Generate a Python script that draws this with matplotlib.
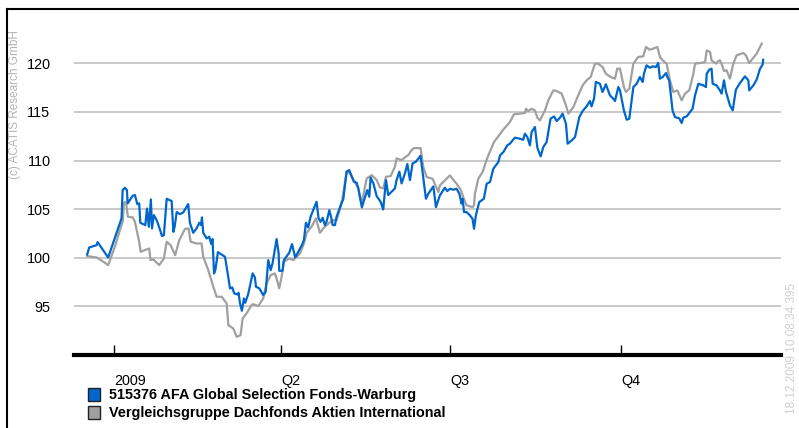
"""Fondsvergleich 2009 als Linienchart."""

import matplotlib

matplotlib.use("Agg")
import matplotlib.pyplot as plt
from matplotlib.patches import Rectangle
from matplotlib.lines import Line2D
import numpy as np

plt.rcParams["font.family"] = ["Liberation Sans", "DejaVu Sans"]

# Tage ab 01.01.2009 und Indexwerte (Start = 100)
fund_days = [-14.4, -13.3, -9.3, -8.8, -3.1, 4.1, 4.7, 5.9, 7.0, 7.4, 10.1, 11.3, 12.6, 13.6, 14.2,
             16.9, 17.8, 18.8, 19.9, 20.5, 21.5, 23.0, 24.4, 25.9, 26.9, 28.4, 31.1, 32.0, 32.7,
             33.8, 35.5, 37.3, 40.0, 40.9, 42.7, 44.5, 46.0, 46.9, 47.4, 48.1, 49.9, 51.3, 52.4,
             53.1, 53.9, 54.6, 56.0, 59.8, 60.7, 62.5, 63.7, 64.8, 66.6, 67.1, 67.9, 68.9, 70.0,
             70.7, 72.3, 74.7, 75.9, 76.5, 78.3, 80.4, 81.7, 83.1, 84.4, 85.4, 87.6, 88.7, 89.0,
             90.8, 91.5, 94.4, 95.9, 97.6, 101.2, 102.3, 103.4, 104.6, 105.9, 109.1, 110.2, 111.3,
             112.4, 113.6, 114.5, 116.0, 116.9, 117.8, 119.0, 119.9, 122.6, 123.5, 125.3, 126.7,
             129.2, 130.7, 131.6, 133.5, 135.7, 136.4, 137.5, 138.2, 139.7, 141.5, 143.6, 145.0,
             146.5, 147.7, 151.3, 152.2, 153.7, 154.9, 156.7, 158.0, 159.4, 160.8, 162.6, 165.1,
             168.0, 169.3, 172.0, 173.4, 175.5, 178.2, 179.5, 181.0, 182.7, 184.5, 186.0, 187.2,
             187.8, 188.5, 189.9, 191.7, 193.1, 193.9, 194.9, 196.7, 199.2, 200.7, 202.5, 204.3,
             207.0, 207.9, 209.7, 211.8, 213.2, 215.9, 218.6, 220.4, 221.3, 222.6, 224.0, 224.9,
             226.7, 228.0, 229.8, 231.2, 233.0, 235.1, 237.0, 238.4, 240.2, 241.6, 243.4, 244.3,
             246.5, 248.3, 250.6, 252.4, 254.5, 256.3, 257.2, 258.5, 259.5, 261.7, 263.1, 264.9,
             267.1, 268.9, 269.8, 271.6, 272.5, 274.6, 276.1, 277.5, 279.7, 281.5, 283.2, 284.7,
             285.4, 286.8, 288.6, 290.4, 291.9, 293.1, 294.0, 295.5, 297.3, 298.0, 299.0, 300.8,
             302.1, 304.4, 305.7, 306.6, 308.4, 311.6, 312.9, 314.7, 317.4, 318.8, 319.2, 320.6,
             321.8, 322.4, 324.5, 326.3, 327.2, 328.5, 329.6, 331.7, 333.2, 334.9, 337.1, 339.8,
             341.6, 342.1, 344.3, 346.1, 347.9, 349.3, 349.6]
fund_values = [100.34, 101.06, 101.30, 101.61, 100.03, 104.05, 106.96, 107.20, 106.96, 105.59,
               106.38, 106.45, 105.52, 105.59, 103.60, 103.36, 105.07, 103.19, 106.00, 103.02,
               104.39, 103.87, 103.12, 102.23, 102.33, 106.07, 105.83, 102.67, 103.19, 104.70,
               104.49, 104.66, 105.52, 103.60, 102.57, 103.02, 103.60, 103.36, 104.15, 102.57,
               101.99, 102.16, 101.41, 101.92, 98.39, 98.73, 100.58, 100.10, 99.07, 96.85, 96.95,
               96.33, 96.23, 96.40, 95.30, 94.55, 95.82, 95.37, 96.26, 98.39, 97.98, 97.02, 96.85,
               96.16, 96.50, 99.76, 98.73, 99.42, 101.92, 100.45, 98.66, 98.66, 99.76, 100.51,
               101.41, 100.03, 101.30, 101.82, 103.60, 103.12, 104.22, 105.76, 104.05, 103.70,
               104.11, 103.36, 103.70, 104.90, 104.22, 103.36, 103.36, 104.22, 105.66, 106.00,
               108.85, 109.02, 107.82, 107.72, 107.13, 105.18, 106.55, 106.96, 106.28, 108.26,
               107.65, 106.34, 105.76, 104.97, 107.99, 106.45, 107.13, 107.99, 108.85, 107.65,
               108.68, 109.64, 107.99, 109.70, 109.88, 110.49, 106.07, 106.59, 107.34, 105.21,
               106.41, 107.20, 106.86, 107.10, 107.00, 107.10, 106.59, 105.56, 106.07, 104.70,
               104.70, 104.36, 104.01, 102.98, 104.36, 105.73, 106.07, 107.61, 107.79, 109.16,
               109.84, 110.53, 110.87, 111.56, 111.73, 112.35, 112.25, 112.14, 112.76, 112.42,
               111.56, 112.93, 113.45, 111.32, 110.43, 111.39, 111.90, 114.30, 114.54, 114.06,
               114.41, 114.82, 113.79, 111.73, 112.07, 112.42, 114.47, 115.09, 115.57, 116.12,
               115.57, 116.36, 118.08, 117.90, 117.05, 117.84, 116.70, 116.36, 116.12, 117.56,
               117.22, 115.16, 114.20, 114.30, 117.56, 117.90, 118.59, 118.08, 118.93, 119.79,
               119.55, 119.69, 119.62, 120.03, 118.42, 118.59, 119.00, 118.59, 118.25, 115.16,
               114.47, 114.34, 113.86, 114.41, 114.54, 115.33, 116.70, 117.90, 117.73, 117.56,
               118.93, 119.35, 119.45, 117.90, 117.73, 117.22, 116.88, 118.25, 117.05, 115.68,
               115.16, 117.29, 117.97, 118.66, 118.25, 117.22, 117.73, 118.32, 119.45, 119.86,
               120.37]

peer_days = [-14.4, -9.3, -5.7, -3.1, 0.5, 3.2, 4.7, 5.4, 6.5, 7.5, 10.1, 11.3, 13.6, 14.4, 16.7,
             19.0, 19.7, 21.2, 24.4, 26.9, 28.4, 30.5, 33.0, 35.2, 38.2, 40.2, 41.3, 44.5, 47.2,
             48.1, 50.8, 53.5, 55.3, 58.0, 60.7, 61.6, 64.3, 66.1, 68.2, 69.3, 71.4, 74.1, 75.0,
             77.7, 80.4, 82.2, 84.4, 86.7, 87.6, 89.0, 90.3, 91.5, 94.4, 96.6, 100.2, 102.3,
             103.8, 106.4, 108.8, 110.9, 112.7, 116.0, 117.8, 119.9, 122.6, 125.3, 127.1, 131.6,
             133.4, 136.1, 138.8, 141.5, 143.2, 145.0, 146.5, 149.0, 151.3, 152.2, 154.9, 157.2,
             158.5, 160.3, 161.6, 165.1, 166.6, 168.4, 171.6, 174.7, 175.5, 178.2, 180.9, 182.7,
             184.5, 186.7, 188.1, 189.9, 193.1, 193.9, 194.4, 196.2, 198.5, 200.3, 201.6, 203.4,
             204.6, 207.0, 209.3, 213.2, 215.4, 218.6, 221.3, 221.9, 223.1, 224.9, 226.7, 228.0,
             229.4, 232.1, 233.9, 236.6, 238.4, 241.1, 243.4, 244.7, 247.4, 250.0, 252.4, 254.5,
             256.7, 259.0, 260.8, 263.1, 264.9, 267.5, 269.8, 271.0, 272.5, 274.6, 275.7, 277.5,
             279.7, 282.3, 285.0, 286.5, 288.3, 290.4, 292.6, 294.0, 295.5, 297.6, 299.4, 301.2,
             303.4, 305.7, 307.5, 309.8, 312.0, 312.9, 315.6, 318.3, 319.2, 321.0, 321.8, 324.2,
             325.4, 326.3, 327.2, 328.5, 329.9, 331.7, 333.5, 335.3, 338.9, 340.3, 342.1, 343.9,
             346.1, 348.8]
peer_values = [100.17, 100.03, 99.59, 99.25, 101.13, 102.85, 103.70, 105.66, 105.76, 104.22,
               104.15, 103.70, 101.65, 100.62, 100.79, 100.96, 99.76, 99.83, 99.25, 99.93, 101.65,
               101.30, 100.27, 101.82, 102.95, 103.02, 101.65, 101.47, 101.47, 100.10, 98.73,
               97.02, 95.99, 95.99, 95.30, 93.07, 92.73, 91.87, 92.04, 93.76, 94.27, 95.13, 95.23,
               95.03, 95.82, 97.36, 98.22, 98.39, 97.87, 96.85, 98.05, 99.59, 99.93, 99.76, 100.45,
               101.47, 102.57, 103.19, 104.05, 102.57, 103.02, 103.60, 103.87, 103.87, 105.59,
               108.85, 108.68, 107.13, 105.59, 108.16, 108.50, 107.99, 107.24, 107.13, 108.33,
               108.40, 109.36, 110.22, 110.05, 110.39, 110.56, 111.08, 111.28, 111.28, 109.33,
               108.30, 108.13, 106.76, 107.44, 107.96, 108.47, 108.03, 107.61, 107.00, 106.24,
               105.39, 105.21, 105.39, 106.59, 108.13, 108.82, 109.84, 110.53, 111.32, 111.90,
               112.49, 113.10, 113.96, 114.75, 114.82, 114.89, 115.33, 115.09, 115.33, 115.16,
               114.41, 114.13, 115.16, 116.19, 117.22, 117.15, 116.88, 115.68, 114.82, 115.50,
               116.70, 117.73, 118.25, 118.59, 119.96, 119.96, 119.62, 118.93, 118.59, 118.42,
               119.45, 119.45, 117.56, 117.05, 117.39, 119.96, 120.65, 120.72, 121.68, 121.40,
               121.51, 121.68, 120.65, 120.31, 119.96, 118.25, 117.05, 117.22, 116.19, 116.88,
               117.22, 118.93, 119.96, 120.03, 120.13, 121.33, 121.16, 120.31, 119.96, 120.24,
               120.31, 119.96, 119.21, 119.28, 118.42, 119.96, 120.82, 121.06, 120.82, 120.03,
               120.48, 120.99, 122.02]

quarter_days = [0, 90, 181, 273]
quarter_labels = ["2009", "Q2", "Q3", "Q4"]
y_ticks = [95, 100, 105, 110, 115, 120]
series_names = ["515376 AFA Global Selection Fonds-Warburg",
                "Vergleichsgruppe Dachfonds Aktien International"]
series_colors = ["#0066cc", "#a0a0a0"]

W, H = 799, 428


def fpos(x, y):
    """Pixelposition (von oben links) -> Figurkoordinaten."""
    return x / W, 1 - y / H


fig = plt.figure(figsize=(W / 100, H / 100), dpi=100)
ax = fig.add_axes([74 / W, 1 - 355 / H, (781 - 74) / W, (355 - 14.7) / H])

ax.plot(peer_days, peer_values, color=series_colors[1], lw=1.6, zorder=3)
ax.plot(fund_days, fund_values, color=series_colors[0], lw=1.6, zorder=4)

ax.set_xlim(-21.5, 359.2)
ax.set_ylim(90, 125)
ax.set_yticks(y_ticks)
ax.set_yticklabels([str(v) for v in y_ticks], fontsize=10.4)
ax.yaxis.grid(True, color="#c0c0c0", lw=1.2)
ax.tick_params(axis="y", length=0, pad=17)

ax.set_xticks(quarter_days)
ax.set_xticklabels(quarter_labels, fontsize=10.4, ha="left")
ax.tick_params(axis="x", direction="in", length=7, width=1, pad=14, color="black")

for side in ("top", "right", "left"):
    ax.spines[side].set_visible(False)
ax.spines["bottom"].set_linewidth(3)
ax.spines["bottom"].set_zorder(5)

# Rahmen oben und links
fig.add_artist(Line2D([7 / W, 7 / W], [0, 1 - 9 / H], color="black", lw=1.5))
fig.add_artist(Line2D([7 / W, 1], [1 - 9 / H, 1 - 9 / H], color="black", lw=1.5))

fig.text(*fpos(15, 105), "(c) ACATIS Research GmbH", rotation=90, color="#b4b4b4",
         fontsize=8.5, ha="center", va="center")
fig.text(*fpos(792, 283), "18.12.2009 10:08:34.395", rotation=90, color="#d0d0d0",
         fontsize=8.5, ha="center", va="top")

# Legende
for i, (name, col) in enumerate(zip(series_names, series_colors)):
    y0 = 388 + i * 18
    x0, y1 = fpos(88, y0 + 13)
    fig.add_artist(Rectangle((x0, y1), 12 / W, 13 / H, transform=fig.transFigure,
                             facecolor=col, edgecolor="#222222", lw=1))
    fig.text(*fpos(109, y0 + 6.5), name, fontsize=10.4, fontweight="bold",
             ha="left", va="center")

fig.savefig("out.png", dpi=100)
plt.close(fig)
